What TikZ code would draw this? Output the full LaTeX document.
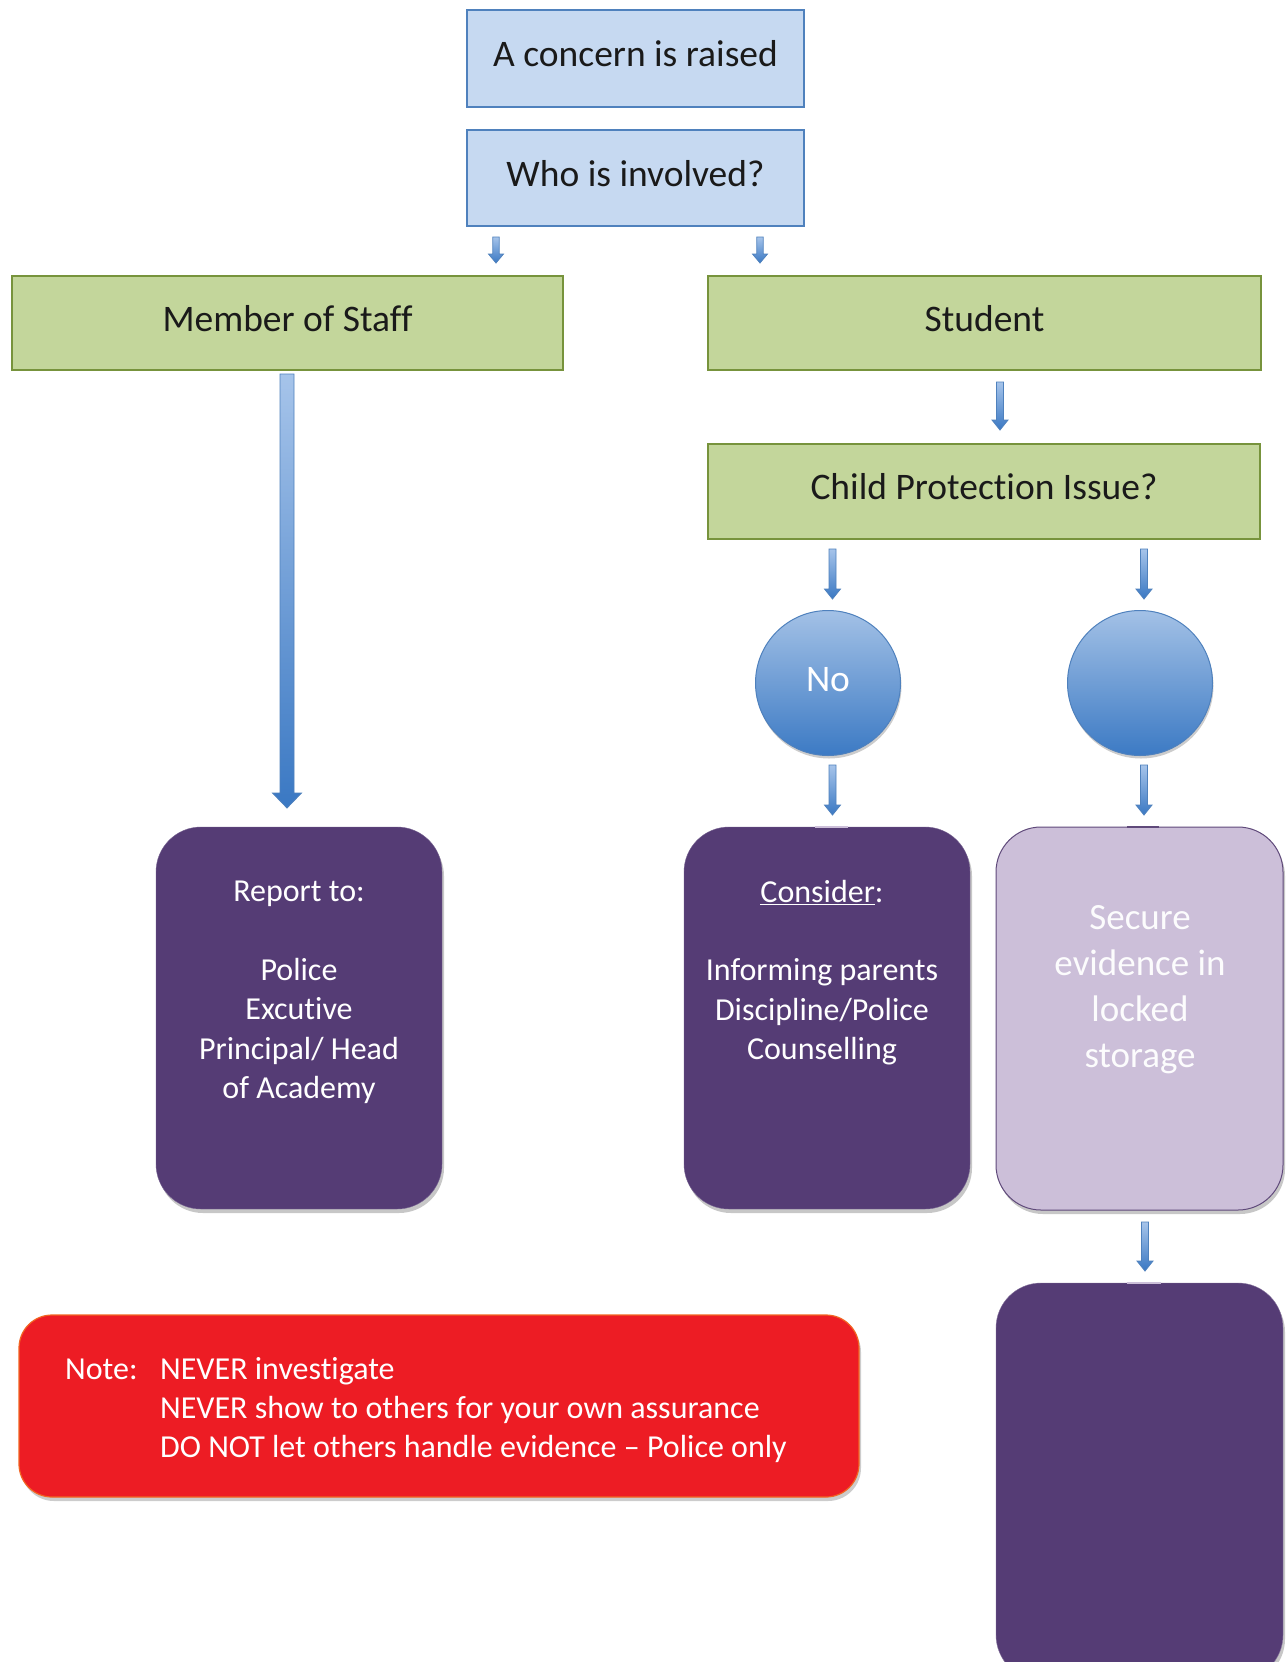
\documentclass[tikz,border=0pt]{standalone}
\usepackage{fontspec}
\setmainfont{Carlito}[Ligatures=NoCommon]
\usetikzlibrary{shadows}
\definecolor{bluefill}{HTML}{C6D9F1}
\definecolor{blueline}{HTML}{4F81BD}
\definecolor{greenfill}{HTML}{C3D69B}
\definecolor{greenline}{HTML}{77933C}
\definecolor{darkpurple}{HTML}{553C75}
\definecolor{lightpurple}{HTML}{CCBFD9}
\definecolor{purpleline}{HTML}{5F497A}
\definecolor{notered}{HTML}{ED1C24}
\definecolor{noteline}{HTML}{F26522}
\definecolor{arrowtop}{HTML}{A6C4EA}
\definecolor{arrowbot}{HTML}{3A78C3}
\definecolor{circtop}{HTML}{A3C1E6}
\definecolor{circbot}{HTML}{3C7AC4}
\definecolor{textdark}{HTML}{1A1A1A}
\newcommand\blockarrow[6]{%
  \shade[top color=arrowtop, bottom color=arrowbot, draw=blueline, line width=0.8pt]
    ({#1-#4},{#2}) -- ({#1+#4},{#2}) -- ({#1+#4},{#3-#6}) -- ({#1+#5},{#3-#6}) --
    ({#1},{#3}) -- ({#1-#5},{#3-#6}) -- ({#1-#4},{#3-#6}) -- cycle;}
\begin{document}
\begin{tikzpicture}[x=1pt,y=-1pt,
  bigfont/.style={font=\fontsize{37.5}{45}\selectfont, text height=26pt, text depth=10pt},
  bluebox/.style={draw=blueline, line width=1.2pt, fill=bluefill, minimum width=337pt,
    text=textdark, bigfont, inner sep=0pt},
  greenbox/.style={draw=greenline, line width=1.2pt, fill=greenfill, minimum height=94pt,
    text=textdark, bigfont, inner sep=0pt},
  circ/.style={circle, draw=blueline, line width=1pt, top color=circtop, bottom color=circbot,
    minimum size=145pt, inner sep=0pt, text=white, bigfont,
    drop shadow={shadow xshift=1pt, shadow yshift=-3pt, opacity=0.2, fill=black}},
  purplebox/.style={rounded corners=45pt, minimum width=286pt, inner sep=0pt,
    drop shadow={shadow xshift=2pt, shadow yshift=-4pt, opacity=0.22, fill=black}},
  boxtext/.style={text=white, align=center, font=\fontsize{32}{39.4}\selectfont, inner sep=0pt},
  tickmark/.style={line width=2.5pt}
]
\useasboundingbox (0,0) rectangle (1286,1662);
\fill[white] (0,0) rectangle (1286,1662);
\clip (0,0) rectangle (1286,1662);

% top boxes
\node[bluebox, minimum height=97pt] (concern) at (635.5,58.5) {A concern is raised};
\node[bluebox, minimum height=96pt] (who) at (635.5,178) {Who is involved?};

% green boxes
\node[greenbox, minimum width=551pt] (staff) at (287.5,323) {Member of Staff};
\node[greenbox, minimum width=553pt] (student) at (984.5,323) {Student};
\node[greenbox, minimum width=552pt, minimum height=95pt] (cp) at (984,491.5) {Child Protection Issue?};
\draw[tickmark, greenline] (479,276) -- (513,276);
\draw[tickmark, greenline] (743,276) -- (777,276);
\draw[tickmark, greenline] (263,370) -- (310,370);
\draw[tickmark, greenline] (984,444) -- (1016,444);

% circles
\node[circ] (no) at (828,683) {No};
\node[circ] (yes) at (1140,683) {};

% purple boxes
\node[purplebox, fill=darkpurple, draw=darkpurple!80!white, minimum height=382pt] (report) at (299,1018) {};
\node[purplebox, fill=darkpurple, draw=darkpurple!80!white, minimum height=382pt] (consider) at (827,1018) {};
\node[purplebox, fill=lightpurple, draw=purpleline, line width=1pt, minimum width=287pt, minimum height=383pt] (secure) at (1139.5,1018.5) {};
\node[purplebox, fill=darkpurple, draw=darkpurple!70!white, minimum width=287pt, minimum height=397pt] (final) at (1139.5,1481.5) {};
\draw[tickmark, purpleline] (1127,827) -- (1159,827);
\draw[line width=1.5pt, lightpurple] (815,827) -- (848,827);
\draw[line width=1.5pt, lightpurple] (1127,1283) -- (1161,1283);

\node[boxtext] (reporttext) at (299,992.5) {Report to:\\[39.4pt]Police\\Excutive\\Principal/ Head\\of Academy};
\node[boxtext] (considertext) at (822,972.5) {\underline{Consider}:\\[39.4pt]Informing parents\\Discipline/Police\\Counselling};
\node[boxtext, font=\fontsize{37}{46}\selectfont, text=white!95!lightpurple] (securetext) at (1140,990) {Secure\\evidence in\\locked\\storage};

% note
\node[rounded corners=33pt, fill=notered, draw=noteline, line width=1.2pt, minimum width=840pt, minimum height=182pt,
  drop shadow={shadow xshift=2pt, shadow yshift=-4pt, opacity=0.2, fill=black}] (note) at (439,1406) {};
\node[anchor=west, text=white, align=left, font=\fontsize{32}{39}\selectfont, inner sep=0pt] (notetext) at (65,1410)
  {\makebox[95pt][l]{Note:}NEVER investigate\\\makebox[95pt][l]{}NEVER show to others for your own assurance\\\makebox[95pt][l]{}DO NOT let others handle evidence -- Police only};

% block arrows
\blockarrow{496}{237}{263}{3.2}{7.5}{9}
\blockarrow{760}{237}{263}{3.2}{7.5}{9}
\blockarrow{287}{374}{808}{7}{14.5}{15}
\blockarrow{1000}{382}{430}{3.5}{8}{10}
\blockarrow{832.5}{549}{599}{3.5}{8}{10}
\blockarrow{1144}{549}{599}{3.5}{8}{10}
\blockarrow{832.5}{765}{815}{3.5}{8}{10}
\blockarrow{1144}{765}{815}{3.5}{8}{10}
\blockarrow{1145}{1222}{1271}{3.5}{8}{10}
\end{tikzpicture}
\end{document}
